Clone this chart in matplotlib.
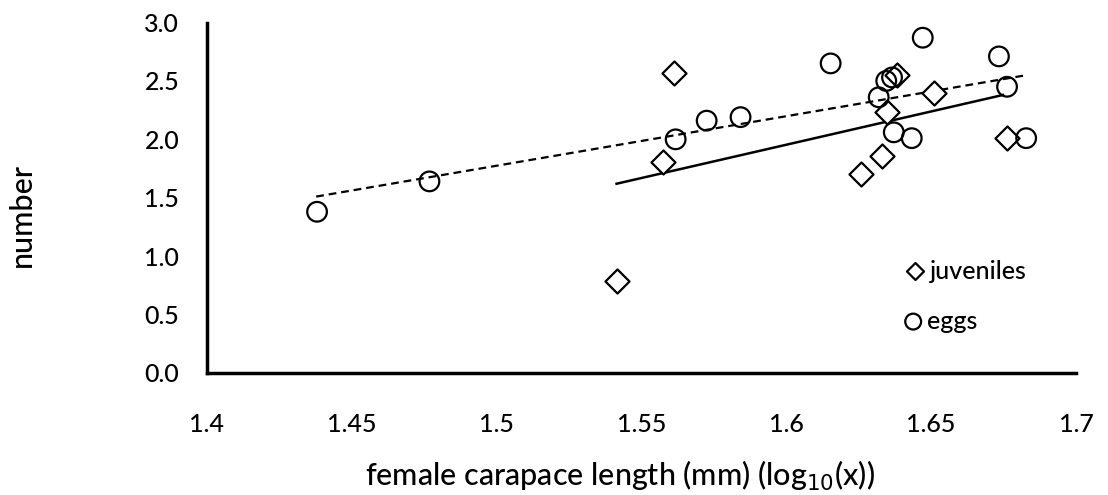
import matplotlib.pyplot as plt
import numpy as np

plt.rcParams['font.family'] = ['Lato', 'DejaVu Sans']
plt.rcParams['font.weight'] = 500

# juveniles (diamonds)
juv_x = [1.5417, 1.5576, 1.5614, 1.6257, 1.6330, 1.6347, 1.6382, 1.6510, 1.6762]
juv_y = [0.79, 1.81, 2.57, 1.70, 1.86, 2.23, 2.55, 2.40, 2.01]

# eggs (circles)
egg_x = [1.438, 1.4768, 1.5618, 1.5725, 1.5842, 1.6153, 1.6319, 1.6345, 1.6365,
         1.6371, 1.6433, 1.6471, 1.6734, 1.6762, 1.6828]
egg_y = [1.38, 1.64, 2.00, 2.16, 2.19, 2.65, 2.36, 2.50, 2.53,
         2.06, 2.01, 2.87, 2.71, 2.45, 2.01]

# trend lines (end points)
juv_line_x = [1.5414, 1.6748]
juv_line_y = [1.62, 2.38]
egg_line_x = [1.4377, 1.683]
egg_line_y = [1.51, 2.55]

yticks = [0.0, 0.5, 1.0, 1.5, 2.0, 2.5, 3.0]
xticks = [1.4, 1.45, 1.5, 1.55, 1.6, 1.65, 1.7]
xtick_labels = ['1.4', '1.45', '1.5', '1.55', '1.6', '1.65', '1.7']

fig = plt.figure(figsize=(11.08, 4.95), dpi=100)
ax = fig.add_axes([0.1868, 0.2465, 0.7843, 0.708])

ax.plot(egg_line_x, egg_line_y, color='black', lw=1.6, ls=(0, (3.5, 2.2)))
ax.plot(juv_line_x, juv_line_y, color='black', lw=1.8)

ax.scatter(juv_x, juv_y, marker='D', s=150, facecolors='white', edgecolors='black',
           linewidths=1.6, zorder=3)
ax.scatter(egg_x, egg_y, marker='o', s=200, facecolors='none', edgecolors='black',
           linewidths=1.6, zorder=3)

ax.set_xlim(1.4, 1.7)
ax.set_ylim(0, 3.0)
ax.set_xticks(xticks)
ax.set_xticklabels(xtick_labels)
ax.set_yticks(yticks)
ax.set_yticklabels([f'{v:.1f}' for v in yticks])
ax.tick_params(length=0, labelsize=18)
ax.tick_params(axis='x', pad=29)
ax.tick_params(axis='y', pad=20)

for s in ['top', 'right']:
    ax.spines[s].set_visible(False)
for s in ['left', 'bottom']:
    ax.spines[s].set_linewidth(2.5)

fig.text(620 / 1108, 1 - 476 / 495, 'female carapace length (mm) (log$_{10}$(x))',
         fontsize=22, ha='center', va='center')
fig.text(22 / 1108, 1 - 215 / 495, 'number', fontsize=22, rotation=90,
         ha='center', va='center')

# legend drawn as text with marker
ax.scatter([1.6445], [0.87], marker='D', s=75, facecolors='white', edgecolors='black',
           linewidths=1.6, clip_on=False)
ax.text(1.6495, 0.87, 'juveniles', fontsize=18, va='center')
ax.scatter([1.6438], [0.44], marker='o', s=130, facecolors='none', edgecolors='black',
           linewidths=1.6, clip_on=False)
ax.text(1.6485, 0.44, 'eggs', fontsize=18, va='center')

fig.savefig('out.png', dpi=100)
